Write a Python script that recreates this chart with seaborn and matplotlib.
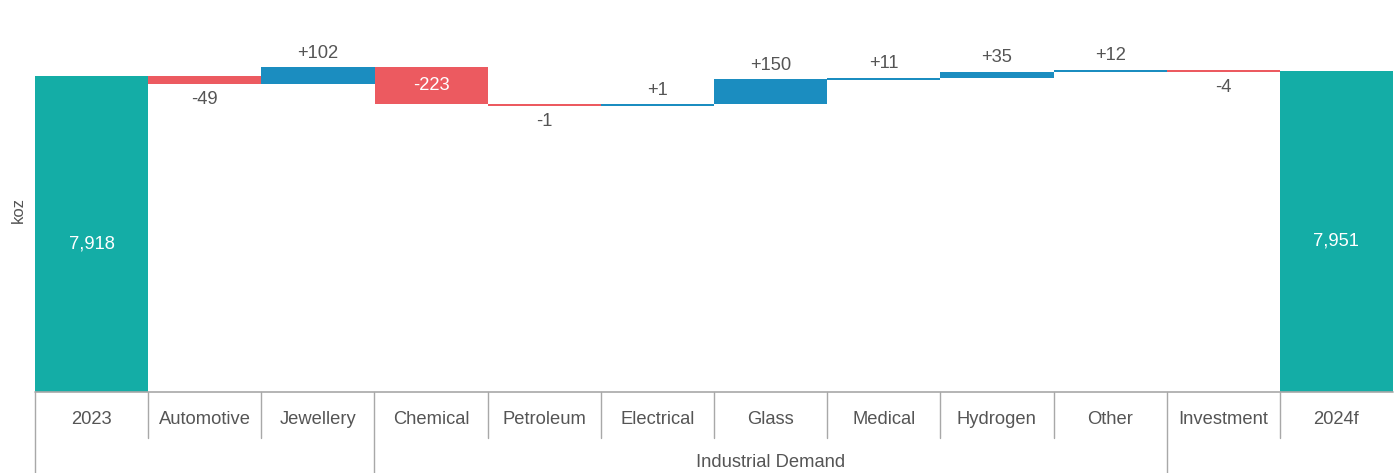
import numpy as np
import pandas as pd
import matplotlib
matplotlib.use("Agg")
import matplotlib.pyplot as plt
import matplotlib.transforms as mtransforms
import seaborn as sns

categories = ['2023', 'Automotive', 'Jewellery', 'Chemical', 'Petroleum', 'Electrical',
              'Glass', 'Medical', 'Hydrogen', 'Other', 'Investment', '2024f']
start_total = 7918
end_total = 7951
changes = [-49, 102, -223, -1, 1, 150, 11, 35, 12, -4]
groups = [('', 0, 2), ('Industrial Demand', 3, 9), ('', 10, 11)]

TEAL = '#14ADA6'
BLUE = '#1B8DC0'
RED = '#EC5A60'
GREY_TXT = '#555555'
LINE = '#a8a8a8'
Y_MIN, Y_MAX = 6000, 8380
MIN_H = 12  # keep tiny steps visible

# build waterfall table
levels = start_total + np.cumsum([0] + changes)
tops, lows, kinds, values = [start_total], [0], ['total'], [start_total]
for i, c in enumerate(changes):
    a, b = levels[i], levels[i + 1]
    hi, lo = max(a, b), min(a, b)
    lo = min(lo, hi - MIN_H)
    tops.append(hi)
    lows.append(lo)
    kinds.append('up' if c > 0 else 'down')
    values.append(c)
tops.append(end_total)
lows.append(0)
kinds.append('total')
values.append(end_total)

df = pd.DataFrame({'category': categories, 'top': tops, 'low': lows,
                   'kind': kinds, 'value': values})

sns.set_theme(style='white')
plt.rcParams['font.family'] = ['Liberation Sans', 'DejaVu Sans']

fig = plt.figure(figsize=(13.97, 4.73), dpi=100)
ax = fig.add_axes([35 / 1397, 1 - 392 / 473, 1358 / 1397, 392 / 473])

sns.barplot(data=df, x='category', y='top', hue='kind', order=categories,
            palette={'total': TEAL, 'up': BLUE, 'down': RED}, dodge=False,
            saturation=1, width=1.0, linewidth=0, legend=False, ax=ax)
sns.barplot(data=df, x='category', y='low', order=categories, color='white',
            saturation=1, width=1.0, linewidth=0, ax=ax)

ax.set_ylim(Y_MIN, Y_MAX)
ax.set_xlim(-0.5, len(categories) - 0.5)
for s in ax.spines.values():
    s.set_visible(False)
ax.set_yticks([])
ax.set_xlabel('')
ax.set_ylabel('')
ax.tick_params(axis='x', length=0, pad=14, labelsize=13.2, labelcolor=GREY_TXT)

# value labels
for i, row in df.iterrows():
    v = row['value']
    if row['kind'] == 'total':
        ax.text(i, (Y_MIN + row['top']) / 2 - 60, f"{v:,}", ha='center',
                va='center', color='white', fontsize=13.2)
    elif abs(v) > 200:
        ax.text(i, (row['top'] + row['low']) / 2, f"{v:d}" if v < 0 else f"{v:+d}",
                ha='center', va='center', color='white', fontsize=13.2)
    elif v > 0:
        ax.annotate(f"{v:+d}", (i, row['top']), xytext=(0, 4),
                    textcoords='offset points', ha='center', va='bottom',
                    color=GREY_TXT, fontsize=13.2)
    else:
        ax.annotate(f"{v:d}", (i, row['low']), xytext=(0, -5),
                    textcoords='offset points', ha='center', va='top',
                    color=GREY_TXT, fontsize=13.2)

# table-like category axis
trans = mtransforms.blended_transform_factory(ax.transData, ax.transAxes)
ax.plot([-0.5, len(categories) - 0.5], [0, 0], color=LINE, lw=1.2,
        transform=trans, clip_on=False, zorder=5)
group_edges = {g[1] for g in groups}
for i in range(len(categories)):
    x = i - 0.5
    bottom = -0.207 if i in group_edges else -0.117
    ax.plot([x, x], [0, bottom], color=LINE, lw=1.0, transform=trans, clip_on=False)
for name, a, b in groups:
    if name:
        ax.text((a + b) / 2, -0.181, name, ha='center', va='center',
                color=GREY_TXT, fontsize=13.2, transform=trans)

fig.text(18 / 1397, 1 - 210 / 473, 'koz', rotation=90, ha='center', va='center',
         color=GREY_TXT, fontsize=12)

fig.savefig('out.png', dpi=100)
